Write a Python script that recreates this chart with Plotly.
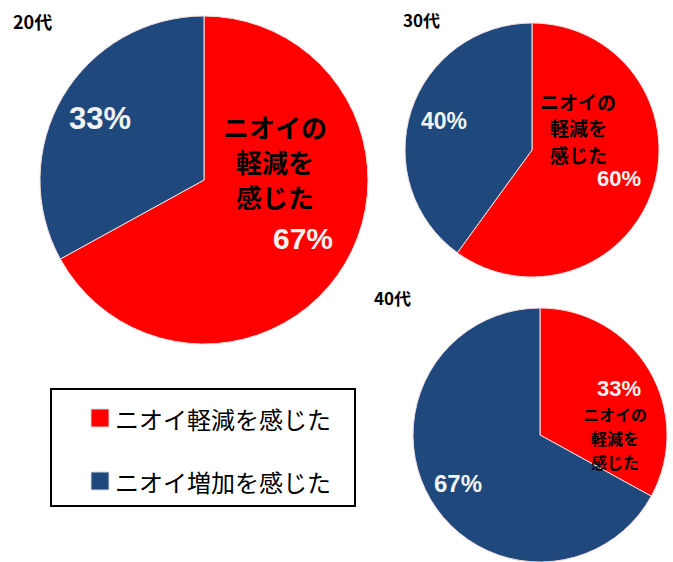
import math
import plotly.graph_objects as go

# ---------------- data ----------------
categories = ["ニオイ軽減を感じた", "ニオイ増加を感じた"]
groups = ["20代", "30代", "40代"]
reduced = [67, 60, 33]      # ニオイ軽減を感じた (%)
increased = [33, 40, 67]    # ニオイ増加を感じた (%)
inside_label_lines = ["ニオイの", "軽減を", "感じた"]

# ---------------- styles / layout ----------------
W, H = 673, 562
colors = ["#FF0000", "#1F497D"]
JP = "Noto Sans CJK JP"
NUM = "Liberation Sans"

# pie placement in pixels: (center x, center y, radius)
pies = [(204, 180, 164), (532, 150, 127), (540, 435, 127)]
title_pos = [(32, 21, 18), (421, 19, 17), (392, 297, 17)]
# inside label: offset of block centre from pie centre, font size, line spacing
label_pos = [(71, -19, 26, 35), (46, -22, 19, 26), (75, 3, 16, 24)]
pct_size = [[30, 31], [22, 23], [22, 24]]
pct_frac = [[0.70, 0.74], [0.72, 0.73], [0.72, 0.75]]


def px(x):
    return min(max(x / W, 0.0), 1.0)


def py(y):
    return min(max(1 - y / H, 0.0), 1.0)


fig = go.Figure()
annotations = []

for i, g in enumerate(groups):
    cx, cy, r = pies[i]
    vals = [reduced[i], increased[i]]
    fig.add_trace(go.Pie(
        labels=categories,
        values=vals,
        sort=False,
        direction="clockwise",
        rotation=0,
        textinfo="none",
        showlegend=False,
        name=g,
        marker=dict(colors=colors, line=dict(color="#f3dede", width=1)),
        domain=dict(x=[px(cx - r), px(cx + r)], y=[py(cy + r), py(cy - r)]),
    ))
    # percentage labels placed at slice mid-angles
    total = sum(vals)
    start = 0.0
    for k, v in enumerate(vals):
        ang = start + v / total * 360 / 2
        start += v / total * 360
        rr = pct_frac[i][k] * r
        tx = cx + rr * math.sin(math.radians(ang))
        ty = cy - rr * math.cos(math.radians(ang))
        annotations.append(dict(
            x=px(tx), y=py(ty), xref="paper", yref="paper",
            text=f"{v}%", showarrow=False,
            font=dict(family=NUM, size=pct_size[i][k], color="#F2F2F2", weight="bold"),
            xanchor="center", yanchor="middle",
        ))
    # inside label, one annotation per line
    ox, oy, fs, ls = label_pos[i]
    n = len(inside_label_lines)
    for j, line in enumerate(inside_label_lines):
        ly = cy + oy + (j - (n - 1) / 2) * ls
        annotations.append(dict(
            x=px(cx + ox), y=py(ly), xref="paper", yref="paper",
            text=line, showarrow=False,
            font=dict(family=JP, size=fs, color="black", weight="bold"),
            xanchor="center", yanchor="middle", align="center",
        ))
    # group title
    tx, ty, ts = title_pos[i]
    annotations.append(dict(
        x=px(tx), y=py(ty), xref="paper", yref="paper",
        text=g, showarrow=False,
        font=dict(family=JP, size=ts, color="black", weight="bold"),
        xanchor="center", yanchor="middle",
    ))

# custom legend box
shapes = [dict(type="rect", xref="paper", yref="paper",
               x0=px(51), x1=px(355), y0=py(506), y1=py(389),
               line=dict(color="black", width=2), fillcolor="white")]
leg_y = [418, 481]
for k, cat in enumerate(categories):
    y = leg_y[k]
    shapes.append(dict(type="rect", xref="paper", yref="paper",
                       x0=px(91), x1=px(109), y0=py(y + 9), y1=py(y - 9),
                       line=dict(color="#d8d8d8", width=1), fillcolor=colors[k]))
    annotations.append(dict(
        x=px(113), y=py(y), xref="paper", yref="paper",
        text=cat, showarrow=False,
        font=dict(family=JP, size=24, color="black"),
        xanchor="left", yanchor="middle",
    ))

fig.update_layout(
    width=W, height=H,
    margin=dict(l=0, r=0, t=0, b=0),
    paper_bgcolor="white", plot_bgcolor="white",
    annotations=annotations, shapes=shapes,
    showlegend=False,
)

fig.write_html("out.html")
